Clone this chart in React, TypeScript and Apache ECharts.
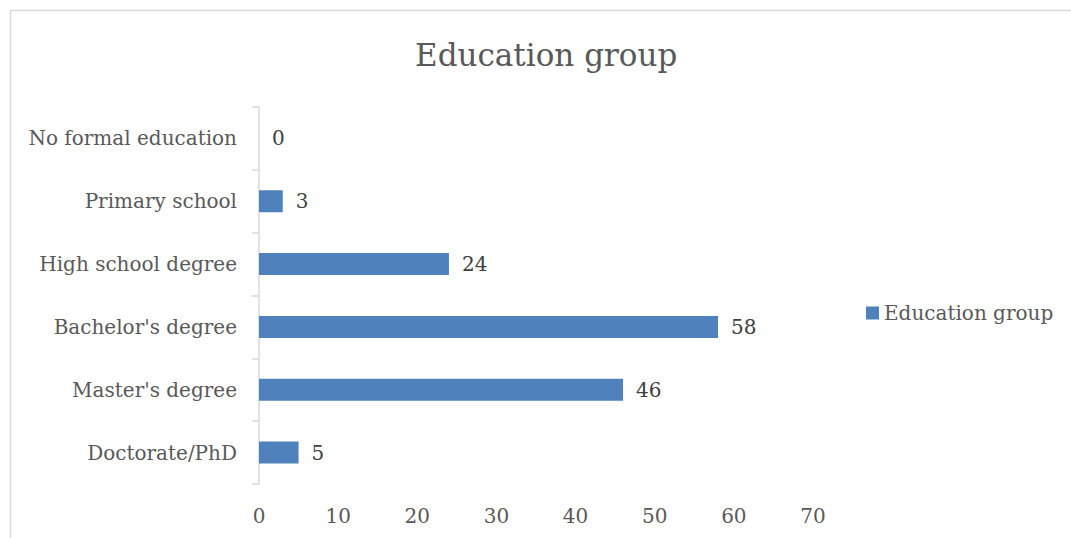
import React, { useEffect, useRef } from "react";
import * as echarts from "echarts";

const categories = [
  "Doctorate/PhD",
  "Master's degree",
  "Bachelor's degree",
  "High school degree",
  "Primary school",
  "No formal education",
];
const values = [5, 46, 58, 24, 3, 0];
const seriesName = "Education group";
const titleText = "Education group";

const FONT = "DejaVu Serif";

export default function App() {
  const ref = useRef<HTMLDivElement>(null);
  useEffect(() => {
    if (!ref.current) return;
    const chart = echarts.init(ref.current, undefined, { renderer: "svg" });
    chart.setOption({
      animation: false,
      backgroundColor: "#ffffff",
      title: {
        text: titleText,
        left: 410,
        top: 34,
        textStyle: { fontFamily: FONT, fontSize: 31, fontWeight: "normal", color: "#595959" },
      },
      legend: {
        data: [seriesName],
        left: 861,
        top: 298,
        itemWidth: 13,
        itemHeight: 13,
        itemGap: 7,
        icon: "rect",
        textStyle: { fontFamily: FONT, fontSize: 20, color: "#595959" },
      },
      grid: { left: 259, right: 258, top: 107, bottom: 54, containLabel: false },
      xAxis: {
        type: "value",
        min: 0,
        max: 70,
        interval: 10,
        axisLine: { show: false },
        axisTick: { show: false },
        splitLine: { show: false },
        axisLabel: { fontFamily: FONT, fontSize: 20, color: "#595959", margin: 22 },
      },
      yAxis: {
        type: "category",
        data: categories,
        axisLine: { show: true, lineStyle: { color: "#d9d9d9", width: 1.5 } },
        axisTick: { show: true, length: 7, lineStyle: { color: "#d9d9d9", width: 1.5 } },
        axisLabel: { fontFamily: FONT, fontSize: 20, color: "#595959", margin: 22, padding: [2, 0, 0, 0] },
      },
      series: [
        {
          name: seriesName,
          type: "bar",
          data: values,
          barWidth: 22,
          itemStyle: { color: "#4F81BD" },
          label: {
            show: true,
            position: "right",
            distance: 13,
            fontFamily: FONT,
            fontSize: 20,
            color: "#404040",
          },
        },
      ],
      graphic: [
        {
          type: "rect",
          shape: { x: 10.5, y: 10.5, width: 1100, height: 600 },
          style: { fill: "none", stroke: "#d9d9d9", lineWidth: 1.5 },
          silent: true,
        },
      ],
    });
    return () => chart.dispose();
  }, []);
  return (
    <div
      ref={ref}
      style={{ position: "absolute", left: 0, top: 0, width: 1071, height: 538 }}
    />
  );
}
